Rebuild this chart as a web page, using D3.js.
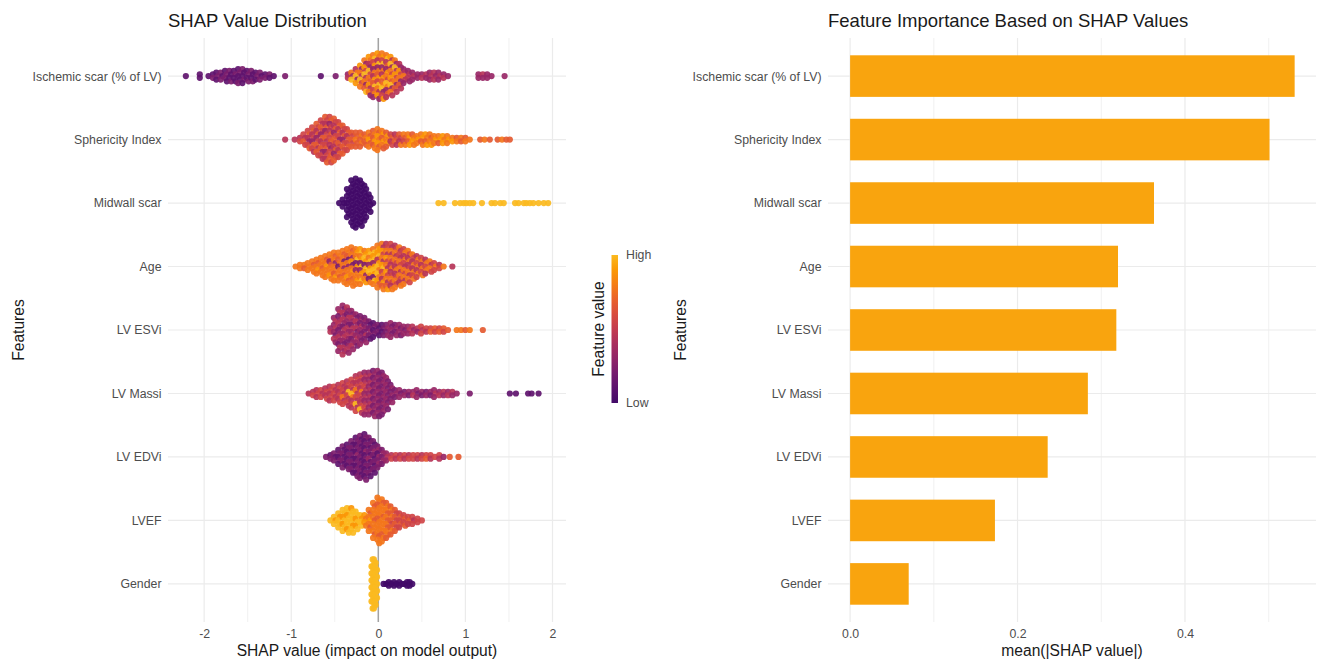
<!DOCTYPE html>
<html>
<head>
<meta charset="utf-8">
<script src="https://cdn.jsdelivr.net/npm/d3@7"></script>
<style>
  body { margin: 0; background: #ffffff; }
  svg { display: block; }
  text { font-family: "Liberation Sans", Arial, sans-serif; }
</style>
</head>
<body>
<svg id="chart" width="1318" height="661"></svg>
<script>
// ---- data -------------------------------------------------------------
const features = [
  "Ischemic scar (% of LV)", "Sphericity Index", "Midwall scar", "Age",
  "LV ESVi", "LV Massi", "LV EDVi", "LVEF", "Gender"
];

// mean(|SHAP value|) per feature, same order as `features`
const meanAbsShap = [0.531, 0.501, 0.363, 0.320, 0.318, 0.284, 0.236, 0.173, 0.070];

const shapTicks = [-2, -1, 0, 1, 2];
const shapMinorTicks = [-1.5, -0.5, 0.5, 1.5];
const importanceTicks = [0, 0.2, 0.4];
const importanceMinorTicks = [0.1, 0.3, 0.5];

// Beeswarm points: [SHAP value, feature-value levels]; each character of the
// string is one patient at that SHAP value, its feature value on a 0 (low)
// to 9 (high) scale, listed top to bottom in the stack.
const swarmIschemic = [
  [-2.21, "1"], [-2.05, "11"],
  [-1.95, "1"], [-1.90, "12"], [-1.85, "121"], [-1.80, "212"], [-1.75, "1221"],
  [-1.70, "2112"], [-1.65, "1211"], [-1.60, "12112"], [-1.55, "21121"], [-1.50, "1212"],
  [-1.45, "2112"], [-1.40, "121"], [-1.35, "212"], [-1.30, "12"], [-1.25, "21"], [-1.20, "1"],
  [-1.07, "2"], [-0.66, "1"], [-0.49, "2"],
  [-0.35, "34"], [-0.30, "739"], [-0.25, "47938"], [-0.20, "8374957"],
  [-0.15, "7385947369"], [-0.10, "874395768473"], [-0.05, "7958374869573"],
  [0.00, "87493768597483"], [0.05, "78593748679358"], [0.10, "7946387597364"],
  [0.15, "849375869374"], [0.20, "7394857364"], [0.25, "43857364"], [0.30, "34743"],
  [0.35, "3443"], [0.40, "343"], [0.45, "33"], [0.50, "34"], [0.55, "43"], [0.60, "343"],
  [0.65, "434"], [0.70, "343"], [0.75, "34"], [0.80, "3"],
  [1.15, "33"], [1.20, "43"], [1.25, "33"], [1.30, "3"], [1.45, "3"]
];

const swarmSphericity = [
  [-1.07, "4"], [-0.96, "4"], [-0.90, "45"], [-0.85, "5465"], [-0.80, "564356"],
  [-0.75, "56453654"], [-0.70, "6546356465"], [-0.65, "546536456354"],
  [-0.60, "65463564563546"], [-0.55, "56354656435665"], [-0.50, "6546356546356"],
  [-0.45, "56465365465"], [-0.40, "654635656"], [-0.35, "5646565"], [-0.30, "65656"],
  [-0.25, "66766"], [-0.20, "67676"], [-0.15, "6766"], [-0.10, "76867"], [-0.05, "676867"],
  [0.00, "7687867"], [0.05, "786876"], [0.10, "68786"], [0.15, "5645"], [0.20, "4564"],
  [0.25, "6547"], [0.30, "7657"], [0.35, "7868"], [0.40, "6787"], [0.45, "787"],
  [0.50, "7867"], [0.55, "8768"], [0.60, "7678"], [0.65, "787"], [0.70, "786"],
  [0.75, "878"], [0.80, "787"], [0.85, "78"], [0.90, "67"], [0.95, "76"], [1.00, "67"],
  [1.05, "7"], [1.17, "6"], [1.22, "7"], [1.28, "6"], [1.37, "6"], [1.42, "7"],
  [1.47, "6"], [1.51, "6"]
];

const swarmMidwall = [
  [-0.45, "0"], [-0.40, "000"], [-0.35, "000000000"], [-0.30, "00000000000000"],
  [-0.25, "000000000000000"], [-0.20, "00000000000000"], [-0.15, "00000000000"],
  [-0.10, "000000"], [-0.06, "0"],
  [0.69, "9"], [0.75, "9"], [0.88, "9"], [0.94, "9"], [0.98, "9"], [1.01, "9"],
  [1.05, "9"], [1.09, "9"], [1.19, "9"], [1.30, "9"], [1.34, "9"], [1.40, "9"],
  [1.44, "9"], [1.57, "9"], [1.61, "9"], [1.67, "9"], [1.70, "9"], [1.74, "9"],
  [1.78, "9"], [1.84, "9"], [1.90, "9"], [1.95, "9"]
];

const swarmAge = [
  [-0.95, "7"], [-0.90, "77"], [-0.85, "76"], [-0.80, "777"], [-0.75, "7677"],
  [-0.70, "76787"], [-0.65, "777677"], [-0.60, "7678777"], [-0.55, "77367787"],
  [-0.50, "767377687"], [-0.45, "776727767"], [-0.40, "7672737677"],
  [-0.35, "77627377867"], [-0.30, "767382787677"], [-0.25, "78792837787"],
  [-0.20, "89782938797"], [-0.15, "7898298378"], [-0.10, "8979389827"],
  [-0.05, "79893898297"], [0.00, "7889489797867"], [0.05, "74857489574867"],
  [0.10, "45748574857468"], [0.15, "54747547457547"], [0.20, "4574754745757"],
  [0.25, "745475747547"], [0.30, "57475475747"], [0.35, "7547457475"],
  [0.40, "75474757"], [0.45, "4757475"], [0.50, "574757"], [0.55, "47574"],
  [0.60, "7475"], [0.65, "575"], [0.70, "45"], [0.75, "7"], [0.85, "4"]
];

const swarmEsvi = [
  [-0.55, "34"], [-0.50, "34343243"], [-0.45, "3423432343243"],
  [-0.40, "324343243432434"], [-0.35, "43243243432343"], [-0.30, "324324342343"],
  [-0.25, "3243423432"], [-0.20, "232432323"], [-0.15, "23232423"], [-0.10, "212321"],
  [-0.05, "12121"], [0.00, "2121"], [0.05, "1212"], [0.10, "2323"], [0.15, "32323"],
  [0.20, "2323"], [0.25, "3232"], [0.30, "323"], [0.35, "343"], [0.40, "434"],
  [0.45, "43"], [0.50, "545"], [0.55, "54"], [0.60, "56"], [0.65, "65"], [0.70, "56"],
  [0.75, "65"], [0.80, "6"], [0.90, "7"], [0.95, "7"], [1.00, "6"], [1.05, "7"],
  [1.20, "6"]
];

const swarmMassi = [
  [-0.80, "4"], [-0.75, "45"], [-0.70, "454"], [-0.65, "545"], [-0.60, "4545"],
  [-0.55, "45454"], [-0.50, "54545"], [-0.45, "454545"], [-0.40, "5454745"],
  [-0.35, "45495454"], [-0.30, "545497454"], [-0.25, "45457454945"],
  [-0.20, "454547544594"], [-0.15, "3434543434543"], [-0.10, "3434343434343"],
  [-0.05, "23232323232323"], [0.00, "32323232323232"], [0.05, "2323232323232"],
  [0.10, "3232323232"], [0.15, "232323"], [0.20, "232"], [0.25, "323"], [0.30, "23"],
  [0.35, "32"], [0.40, "34"], [0.45, "323"], [0.50, "32"], [0.55, "23"], [0.60, "32"],
  [0.65, "343"], [0.70, "34"], [0.75, "43"], [0.80, "34"], [0.85, "43"], [0.90, "3"],
  [1.05, "2"], [1.51, "1"], [1.58, "1"], [1.72, "1"], [1.76, "1"], [1.84, "1"]
];

const swarmEdvi = [
  [-0.60, "2"], [-0.55, "12"], [-0.50, "212"], [-0.45, "12121"], [-0.40, "2121212"],
  [-0.35, "12121212"], [-0.30, "2121212121"], [-0.25, "121213121212"],
  [-0.20, "2121212121212"], [-0.15, "12121312121212"], [-0.10, "212121312121"],
  [-0.05, "2123212121"], [0.00, "2313232"], [0.05, "23232"], [0.10, "343"],
  [0.15, "45"], [0.20, "54"], [0.25, "45"], [0.30, "54"], [0.35, "45"], [0.40, "55"],
  [0.45, "54"], [0.50, "45"], [0.55, "56"], [0.60, "54"], [0.65, "5"], [0.70, "54"],
  [0.75, "3"], [0.82, "6"], [0.92, "6"]
];

const swarmLvef = [
  [-0.55, "9"], [-0.50, "989"], [-0.45, "98999"], [-0.40, "9989899"],
  [-0.35, "99899989"], [-0.30, "89999899"], [-0.25, "998989"], [-0.20, "9899"],
  [-0.15, "8787"], [-0.10, "7678767"], [-0.05, "76777677767"],
  [0.00, "77677767777677"], [0.05, "7677767777677"], [0.10, "67767676776"],
  [0.15, "676765676"], [0.20, "6565656"], [0.25, "56565"], [0.30, "5656"],
  [0.35, "565"], [0.40, "545"], [0.45, "55"], [0.50, "5"]
];

const swarmGender = [
  [-0.068, "99999999999"], [-0.055, "999999999999999"], [-0.040, "999999999999999"],
  [-0.025, "99999999999"],
  [0.06, "0"], [0.09, "0"], [0.12, "00"], [0.15, "0"], [0.18, "00"], [0.21, "0"],
  [0.24, "00"], [0.27, "0"], [0.30, "0"], [0.33, "00"], [0.36, "00"], [0.39, "0"]
];

const swarms = [swarmIschemic, swarmSphericity, swarmMidwall, swarmAge, swarmEsvi,
                swarmMassi, swarmEdvi, swarmLvef, swarmGender];

// ---- layout -----------------------------------------------------------
const svg = d3.select("#chart");
const plotTop = 38, plotBottom = 622;
const left1 = 168, right1 = 566;
const left2 = 828, right2 = 1316;
const gridColor = "#ebebeb";
const tickColor = "#4d4d4d";
const titleColor = "#1a1a1a";

const y = d3.scalePoint().domain(features).range([plotTop, plotBottom]).padding(0.6);
const xShap = d3.scaleLinear().domain([-2.415, 2.155]).range([left1, right1]);
const xImp = d3.scaleLinear().domain([-0.0264, 0.5565]).range([left2, right2]);

// feature value (0..1) -> colour
const colour = d3.scaleSequential(t => d3.interpolateInferno(0.2 + 0.64 * t)).domain([0, 1]);

function styleAxis(a) {
  a.select(".domain").remove();
  a.selectAll("text").attr("fill", tickColor).style("font-size", "12.3px");
}

function grid(g, x, minor, major, x0, x1) {
  g.selectAll("line.minor").data(minor).join("line").attr("class", "minor")
    .attr("x1", d => x(d)).attr("x2", d => x(d))
    .attr("y1", plotTop).attr("y2", plotBottom)
    .attr("stroke", gridColor).attr("stroke-width", 0.7);
  g.selectAll("line.major").data(major).join("line").attr("class", "major")
    .attr("x1", d => x(d)).attr("x2", d => x(d))
    .attr("y1", plotTop).attr("y2", plotBottom)
    .attr("stroke", gridColor).attr("stroke-width", 1.2);
  g.selectAll("line.row").data(features).join("line").attr("class", "row")
    .attr("x1", x0).attr("x2", x1)
    .attr("y1", d => y(d)).attr("y2", d => y(d))
    .attr("stroke", gridColor).attr("stroke-width", 1.2);
}

// ---- left panel: SHAP value distribution -------------------------------
const p1 = svg.append("g");
grid(p1, xShap, shapMinorTicks, shapTicks, left1, right1);

// zero reference line
p1.append("line")
  .attr("x1", xShap(0)).attr("x2", xShap(0))
  .attr("y1", plotTop).attr("y2", plotBottom)
  .attr("stroke", "#a3a3a3").attr("stroke-width", 1.5);

// stack each SHAP value's patients vertically around the feature's row,
// nudging alternate points sideways so the stacks blend into one swarm
const step = 3.5;
const points = [];
swarms.forEach((rows, fi) => {
  rows.forEach(([shap, levels]) => {
    const n = levels.length;
    for (let i = 0; i < n; i++) {
      points.push({
        feature: features[fi],
        shap: shap,
        nudge: n > 2 ? (i % 2 ? 0.9 : -0.9) : 0,
        offset: (i - (n - 1) / 2) * step,
        value: +levels[i] / 9
      });
    }
  });
});

p1.append("g").selectAll("circle").data(points).join("circle")
  .attr("cx", d => xShap(d.shap) + d.nudge)
  .attr("cy", d => y(d.feature) + d.offset)
  .attr("r", 3.1)
  .attr("fill", d => colour(d.value))
  .attr("fill-opacity", 0.92);

styleAxis(p1.append("g").attr("transform", `translate(${left1},0)`)
  .call(d3.axisLeft(y).tickSize(0).tickPadding(6.5)));
styleAxis(p1.append("g").attr("transform", `translate(0,${plotBottom})`)
  .call(d3.axisBottom(xShap).tickValues(shapTicks).tickSize(0).tickPadding(7.5)
    .tickFormat(d => String(d))));

p1.append("text").attr("x", left1).attr("y", 27)
  .style("font-size", "18.5px").attr("fill", titleColor)
  .text("SHAP Value Distribution");
p1.append("text").attr("x", (left1 + right1) / 2).attr("y", 656)
  .attr("text-anchor", "middle").style("font-size", "15.6px").attr("fill", titleColor)
  .text("SHAP value (impact on model output)");
p1.append("text").attr("transform", `translate(23.5,${(plotTop + plotBottom) / 2}) rotate(-90)`)
  .attr("text-anchor", "middle").style("font-size", "15.6px").attr("fill", titleColor)
  .text("Features");

// colour bar legend
const defs = svg.append("defs");
const grad = defs.append("linearGradient").attr("id", "featureGrad")
  .attr("x1", 0).attr("y1", 1).attr("x2", 0).attr("y2", 0);
d3.range(0, 1.0001, 0.1).forEach(t => {
  grad.append("stop").attr("offset", t).attr("stop-color", colour(t));
});
const legendScale = d3.scaleLinear().domain([0, 1]).range([403, 255]);
const leg = svg.append("g");
leg.append("rect")
  .attr("x", 611.5).attr("y", legendScale(1))
  .attr("width", 6.5).attr("height", legendScale(0) - legendScale(1))
  .attr("fill", "url(#featureGrad)");
leg.selectAll("text.lab").data([[1, "High"], [0, "Low"]]).join("text")
  .attr("x", 626).attr("y", d => legendScale(d[0]))
  .attr("dy", "0.35em").style("font-size", "12.3px").attr("fill", tickColor)
  .text(d => d[1]);
leg.append("text").attr("transform", `translate(604,${(legendScale(0) + legendScale(1)) / 2}) rotate(-90)`)
  .attr("text-anchor", "middle").style("font-size", "15.6px").attr("fill", titleColor)
  .text("Feature value");

// ---- right panel: feature importance -----------------------------------
const p2 = svg.append("g");
grid(p2, xImp, importanceMinorTicks, importanceTicks, left2, right2);

const barH = y.step() * 0.655;
p2.selectAll("rect.bar").data(features).join("rect").attr("class", "bar")
  .attr("x", xImp(0))
  .attr("y", d => y(d) - barH / 2)
  .attr("width", (d, i) => xImp(meanAbsShap[i]) - xImp(0))
  .attr("height", barH)
  .attr("fill", "#f9a40e");

styleAxis(p2.append("g").attr("transform", `translate(${left2},0)`)
  .call(d3.axisLeft(y).tickSize(0).tickPadding(6.5)));
styleAxis(p2.append("g").attr("transform", `translate(0,${plotBottom})`)
  .call(d3.axisBottom(xImp).tickValues(importanceTicks).tickSize(0).tickPadding(7.5)
    .tickFormat(d3.format(".1f"))));

p2.append("text").attr("x", left2).attr("y", 27)
  .style("font-size", "18.5px").attr("fill", titleColor)
  .text("Feature Importance Based on SHAP Values");
p2.append("text").attr("x", (left2 + right2) / 2).attr("y", 656)
  .attr("text-anchor", "middle").style("font-size", "15.6px").attr("fill", titleColor)
  .text("mean(|SHAP value|)");
p2.append("text").attr("transform", `translate(685.5,${(plotTop + plotBottom) / 2}) rotate(-90)`)
  .attr("text-anchor", "middle").style("font-size", "15.6px").attr("fill", titleColor)
  .text("Features");
</script>
</body>
</html>
